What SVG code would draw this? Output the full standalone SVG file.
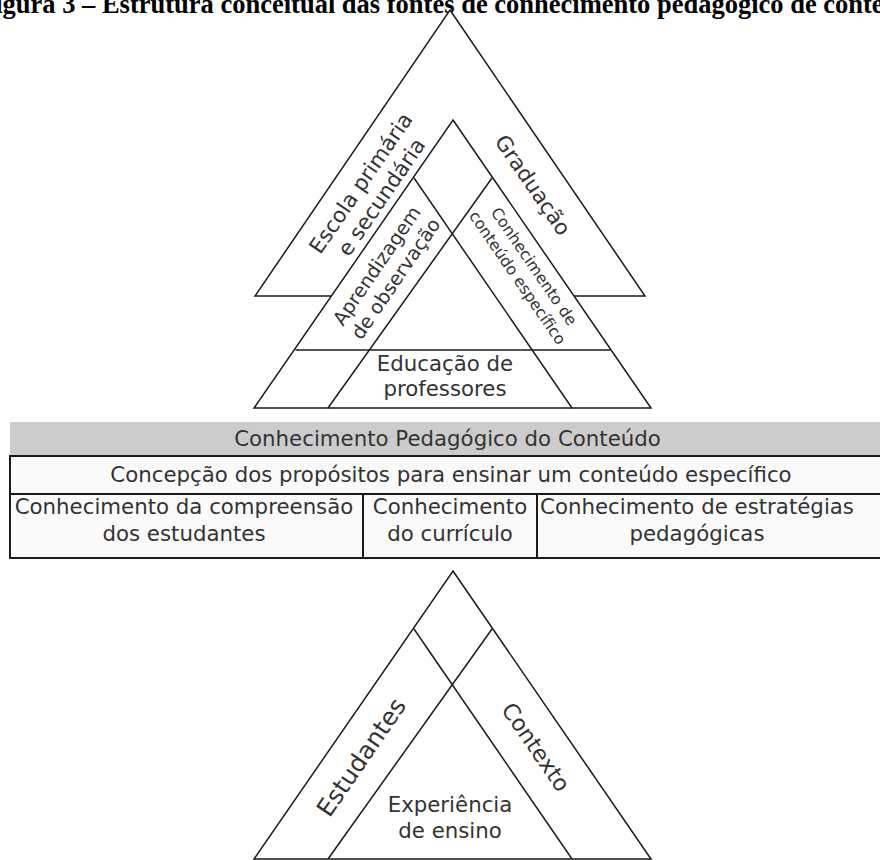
<svg xmlns="http://www.w3.org/2000/svg" width="880" height="860" viewBox="0 0 880 860">
<style>
.sh{fill:#ffffff;stroke:#1a1a1a;stroke-width:1.5;stroke-linejoin:miter}
.ln{fill:none;stroke:#1a1a1a;stroke-width:1.5}
.t{font-family:"DejaVu Sans",Verdana,sans-serif;font-size:21.3px;fill:#333333;text-anchor:middle}
.s19{font-size:19.3px}
.s16{font-size:15.75px}
.s24{font-size:24.5px}
.s22{font-size:22.5px}
.ti{font-family:"Liberation Serif","Times New Roman",serif;font-weight:bold;font-size:26.5px;fill:#000000}
.hd{fill:#cccccc;stroke:none}
.tb{fill:#fafafa;stroke:#1a1a1a;stroke-width:2}
</style>
<rect width="880" height="860" fill="#ffffff"/>
<g id="title"><text class="ti" x="-21" y="13">Figura 3 – Estrutura conceitual das fontes de conhecimento pedagógico de conteúdo</text></g>

<g id="node-outer-triangle">
<polygon class="sh" points="450,10 645,296 255,296"/>
<text class="t" transform="translate(371,190) rotate(-55.6)"><tspan x="0" y="-5">Escola primária</tspan><tspan x="0" y="20">e secundária</tspan></text>
<text class="t" transform="translate(533,185) rotate(55.6)" x="0" y="7.5">Graduação</text>
</g>

<g id="node-middle-triangle">
<polygon class="sh" points="453,120 651,408 254,408"/>
<line class="ln" x1="295.5" y1="350" x2="610.5" y2="350"/>
<line class="ln" x1="414" y1="178" x2="572" y2="408"/>
<line class="ln" x1="492" y1="178" x2="328" y2="408"/>
<text class="t s19" transform="translate(386,272) rotate(-55.6)"><tspan x="0" y="-4.5">Aprendizagem</tspan><tspan x="0" y="18.5">de observação</tspan></text>
<text class="t s16" transform="translate(526,272) rotate(55.6)"><tspan x="0" y="-4.3">Conhecimento de</tspan><tspan x="0" y="15.7">conteúdo específico</tspan></text>
<text class="t"><tspan x="445" y="371">Educação de</tspan><tspan x="445" y="396">professores</tspan></text>
</g>

<g id="node-table">
<rect class="hd" x="10" y="422" width="880" height="34"/>
<text class="t" x="447.5" y="446">Conhecimento Pedagógico do Conteúdo</text>
<rect class="tb" x="10" y="456" width="880" height="38"/>
<text class="t" x="451" y="482">Concepção dos propósitos para ensinar um conteúdo específico</text>
<rect class="tb" x="10" y="494" width="353" height="64"/>
<text class="t"><tspan x="184" y="514">Conhecimento da compreensão</tspan><tspan x="184" y="541">dos estudantes</tspan></text>
<rect class="tb" x="363" y="494" width="174" height="64"/>
<text class="t"><tspan x="450" y="514">Conhecimento</tspan><tspan x="450" y="541">do currículo</tspan></text>
<rect class="tb" x="537" y="494" width="350" height="64"/>
<text class="t"><tspan x="697" y="514">Conhecimento de estratégias</tspan><tspan x="697" y="541">pedagógicas</tspan></text>
</g>

<g id="node-bottom-triangle">
<polygon class="sh" points="453,571 651,859 254,859"/>
<line class="ln" x1="414" y1="629" x2="572" y2="859"/>
<line class="ln" x1="492" y1="629" x2="328" y2="859"/>
<text class="t s24" transform="translate(361,757) rotate(-55.6)" x="0" y="8.8">Estudantes</text>
<text class="t s22" transform="translate(536,747) rotate(55.6)" x="0" y="8">Contexto</text>
<text class="t"><tspan x="450" y="812">Experiência</tspan><tspan x="450" y="838">de ensino</tspan></text>
</g>

<g id="connectors"></g>
</svg>
